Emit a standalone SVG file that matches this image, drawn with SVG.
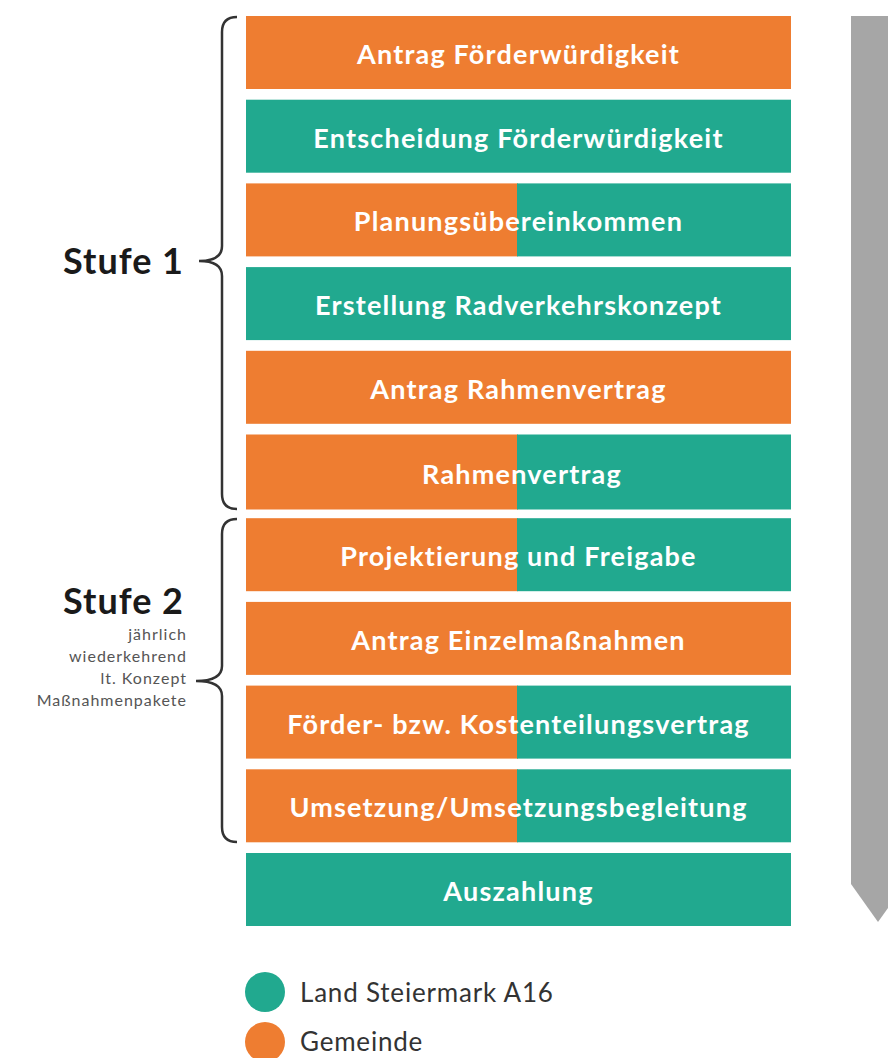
<svg xmlns="http://www.w3.org/2000/svg" width="888" height="1058" viewBox="0 0 888 1058">
<style>
.o{fill:#EE7D31}
.t{fill:#21A98F}
.lbl{font-family:"Lato","Open Sans",sans-serif;font-weight:bold;font-size:27px;letter-spacing:1.2px;fill:#FFFFFF;text-anchor:middle}
.stufe{font-family:"Lato","Open Sans",sans-serif;font-weight:bold;font-size:36px;letter-spacing:1px;fill:#1a1a1a;text-anchor:end}
.small{font-family:"Lato","Open Sans",sans-serif;font-size:16px;letter-spacing:1px;fill:#555;text-anchor:end}
.leg{font-family:"Lato","Open Sans",sans-serif;font-size:26px;letter-spacing:0.8px;fill:#333}
.brace{fill:none;stroke:#333;stroke-width:2.5}
</style>
<rect width="888" height="1058" fill="#FFFFFF"/>
<polygon id="arrow" points="851,16 905,16 905,884 878,922 851,884" fill="#A6A6A6"/>
<g id="braces">
<path class="brace" d="M237,17 Q222,17 222,32 L222,246 Q222,261 199,261 Q222,261 222,276 L222,494 Q222,509 237,509"/>
<path class="brace" d="M237,519 Q222,519 222,534 L222,666 Q222,681 196,681 Q222,681 222,696 L222,827 Q222,842 237,842"/>
</g>
<g id="stufe1"><text class="stufe" x="184" y="274">Stufe 1</text></g>
<g id="stufe2"><text class="stufe" x="184" y="614">Stufe 2</text>
<text class="small" x="187" y="640">jährlich</text>
<text class="small" x="187" y="662">wiederkehrend</text>
<text class="small" x="187" y="684">lt. Konzept</text>
<text class="small" x="187" y="706">Maßnahmenpakete</text></g>
<g id="n1"><rect class="o" x="246" y="16" width="545" height="73"/><text class="lbl" x="518.5" y="64">Antrag Förderwürdigkeit</text></g>
<g id="n2"><rect class="t" x="246" y="99.7" width="545" height="73"/><text class="lbl" x="518.5" y="147.7">Entscheidung Förderwürdigkeit</text></g>
<g id="n3"><rect class="o" x="246" y="183.4" width="272" height="73"/><rect class="t" x="517" y="183.4" width="274" height="73"/><text class="lbl" x="518.5" y="231.4">Planungsübereinkommen</text></g>
<g id="n4"><rect class="t" x="246" y="267.1" width="545" height="73"/><text class="lbl" x="518.5" y="315.1">Erstellung Radverkehrskonzept</text></g>
<g id="n5"><rect class="o" x="246" y="350.8" width="545" height="73"/><text class="lbl" x="518.5" y="398.8">Antrag Rahmenvertrag</text></g>
<g id="n6"><rect class="o" x="246" y="434.5" width="272" height="75"/><rect class="t" x="517" y="434.5" width="274" height="75"/><text class="lbl" x="522" y="483.5">Rahmenvertrag</text></g>
<g id="n7"><rect class="o" x="246" y="518.2" width="272" height="73"/><rect class="t" x="517" y="518.2" width="274" height="73"/><text class="lbl" x="518.5" y="566.2">Projektierung und Freigabe</text></g>
<g id="n8"><rect class="o" x="246" y="601.9" width="545" height="73"/><text class="lbl" x="518.5" y="649.9">Antrag Einzelmaßnahmen</text></g>
<g id="n9"><rect class="o" x="246" y="685.6" width="272" height="73"/><rect class="t" x="517" y="685.6" width="274" height="73"/><text class="lbl" x="518.5" y="733.6">Förder- bzw. Kostenteilungsvertrag</text></g>
<g id="n10"><rect class="o" x="246" y="769.3" width="272" height="73"/><rect class="t" x="517" y="769.3" width="274" height="73"/><text class="lbl" x="518.5" y="817.3">Umsetzung/Umsetzungsbegleitung</text></g>
<g id="n11"><rect class="t" x="246" y="853" width="545" height="73"/><text class="lbl" x="518.5" y="901">Auszahlung</text></g>
<g id="legend">
<circle class="t" cx="265" cy="992" r="20"/><text class="leg" x="300" y="1002">Land Steiermark A16</text>
<circle class="o" cx="265" cy="1042" r="20"/><text class="leg" x="300" y="1051">Gemeinde</text>
</g>
</svg>
